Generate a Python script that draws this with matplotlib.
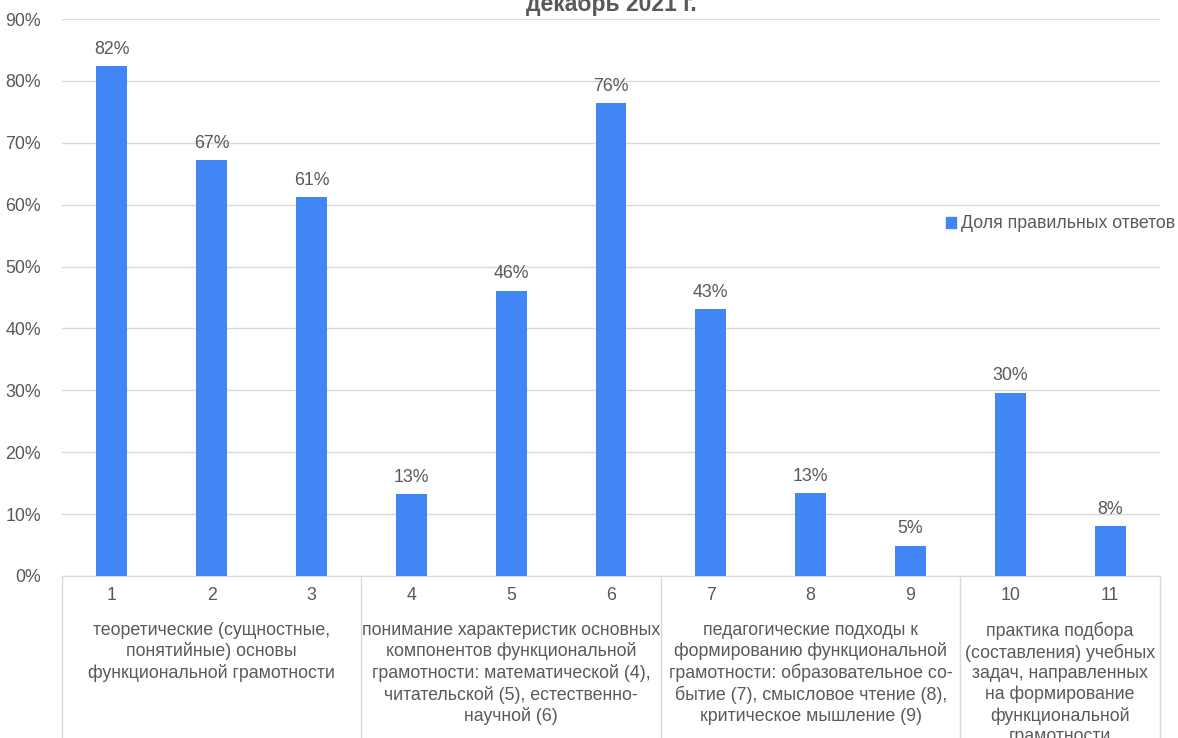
import matplotlib
matplotlib.use("Agg")
import matplotlib.pyplot as plt
import matplotlib.transforms as mtransforms
from matplotlib.patches import Patch

plt.rcParams['font.family'] = ['Liberation Sans', 'DejaVu Sans']

title = "декабрь 2021 г."
categories = ["1", "2", "3", "4", "5", "6", "7", "8", "9", "10", "11"]
values = [82.4, 67.2, 61.2, 13.2, 46.1, 76.4, 43.1, 13.4, 4.9, 29.6, 8.1]
groups = [
    "теоретические (сущностные,\nпонятийные) основы\nфункциональной грамотности",
    "понимание характеристик основных\nкомпонентов функциональной\nграмотности: математической (4),\nчитательской (5), естественно-\nнаучной (6)",
    "педагогические подходы к\nформированию функциональной\nграмотности: образовательное со-\nбытие (7), смысловое чтение (8),\nкритическое мышление (9)",
    "практика подбора\n(составления) учебных\nзадач, направленных\nна формирование\nфункциональной\nграмотности",
]
group_sizes = [3, 3, 3, 2]
series_name = "Доля правильных ответов"

W, H = 1178, 738
fig = plt.figure(figsize=(W / 100, H / 100), dpi=100)
ax_l, ax_r, ax_b, ax_t = 62, 1160, 576, 19
ax = fig.add_axes([ax_l / W, (H - ax_b) / H, (ax_r - ax_l) / W, (ax_b - ax_t) / H])

bar_color = "#4285F4"
text_color = "#595959"
grid_color = "#D9D9D9"
fs = 12.8

x = list(range(len(categories)))
ax.bar(x, values, width=0.31, color=bar_color, zorder=3)
ax.set_xlim(-0.5, len(categories) - 0.5)
ax.set_ylim(0, 90)
ax.set_yticks(range(0, 91, 10))
ax.set_yticklabels([f"{v}%" for v in range(0, 91, 10)], color=text_color, fontsize=fs)
ax.tick_params(axis='y', length=0, pad=15)
ax.tick_params(axis='x', length=0, bottom=False, labelbottom=False)
ax.grid(axis='y', color=grid_color, linewidth=1, zorder=0)
for s in ['left', 'right', 'top']:
    ax.spines[s].set_visible(False)
ax.spines['bottom'].set_color(grid_color)

for xi, v in zip(x, values):
    ax.annotate(f"{round(v)}%", (xi, v), xytext=(0, 6), textcoords='offset points',
                ha='center', va='bottom', color=text_color, fontsize=fs)

trans = mtransforms.blended_transform_factory(ax.transData, ax.transAxes)
px = 1.0 / (ax_b - ax_t)
for xi, c in zip(x, categories):
    ax.text(xi, -20 * px, c, transform=trans, ha='center', va='center',
            color=text_color, fontsize=fs)

start = 0
bounds = [-0.5]
for g, n in zip(groups, group_sizes):
    center = start + (n - 1) / 2
    ax.text(center, -46 * px, g, transform=trans, ha='center', va='top',
            color=text_color, fontsize=fs, linespacing=1.25)
    start += n
    bounds.append(start - 0.5)
for b in bounds:
    ax.plot([b, b], [0, -(H - ax_b) * px], transform=trans, color=grid_color,
            linewidth=1, clip_on=False)

fig.text(611 / W, 1 - 5 / H, title, ha='center', va='center', fontsize=16.5,
         fontweight='bold', color=text_color)

handle = Patch(color=bar_color, label=series_name)
fig.legend(handles=[handle], loc='center left', bbox_to_anchor=(946 / W, 1 - 224 / H),
           frameon=False, fontsize=fs, handlelength=0.55, handleheight=0.55,
           handletextpad=0.3, labelcolor=text_color, borderpad=0, borderaxespad=0)

fig.savefig("out.png", dpi=100)
